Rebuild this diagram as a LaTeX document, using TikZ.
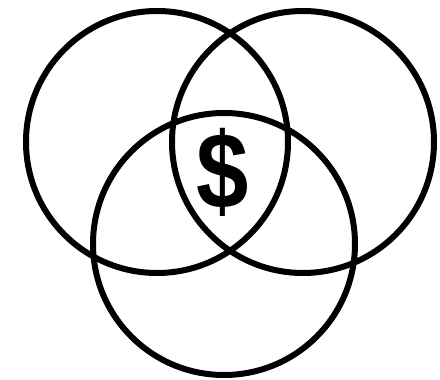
\documentclass[tikz,border=0pt]{standalone}
\usepackage{fontspec}
\setmainfont{Liberation Sans}
\begin{document}
\begin{tikzpicture}[x=1pt,y=-1pt,
  ring/.style={draw=black,line width=6pt,circle,minimum size=262pt,inner sep=0pt}]
\useasboundingbox[fill=white] (0,0) rectangle (440,380);
\node[ring] (left) at (157,142) {};
\node[ring] (right) at (303,142) {};
\node[ring] (bottom) at (224,244) {};
\node[font=\fontsize{94}{94}\selectfont\bfseries,inner sep=0pt] (dollar) at (222.5,172) {\scalebox{1}[1.15]{\$}};
\end{tikzpicture}
\end{document}
